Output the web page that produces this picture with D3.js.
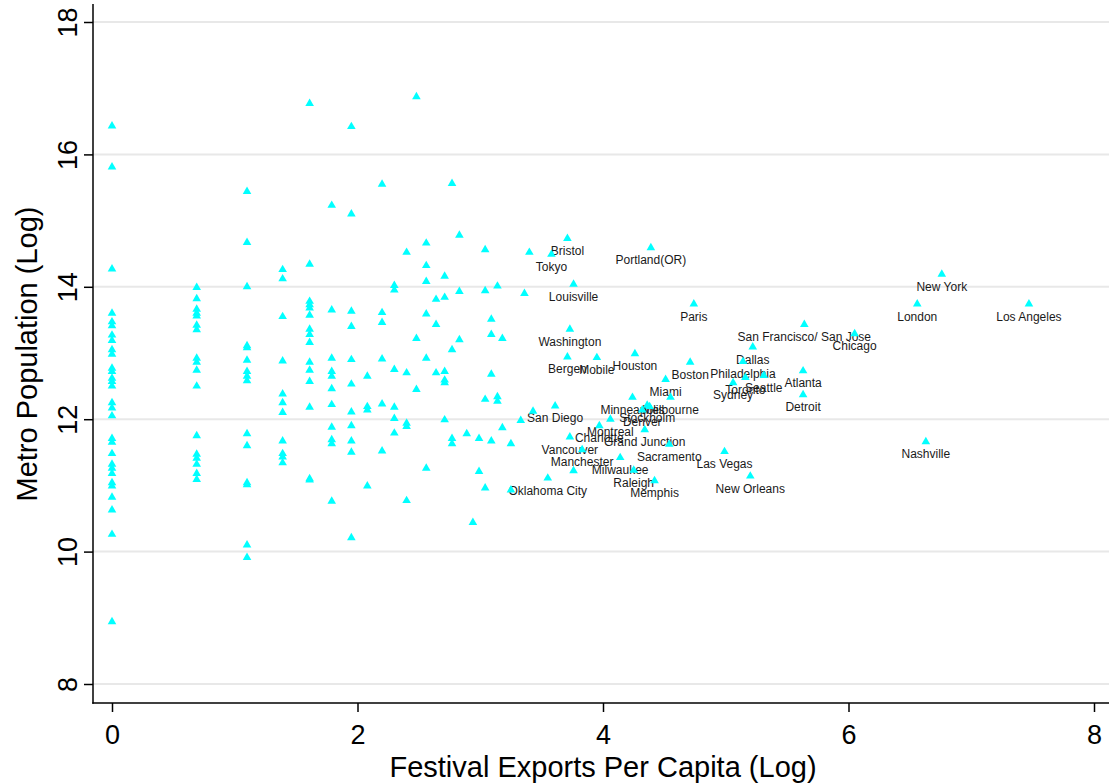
<!DOCTYPE html>
<html>
<head>
<meta charset="utf-8">
<script src="https://cdn.jsdelivr.net/npm/d3@7"></script>
<style>
  html, body { margin: 0; padding: 0; background: #fff; }
  svg { display: block; font-family: "Liberation Sans", Arial, sans-serif; }
</style>
</head>
<body>
<svg id="chart" width="1109" height="784"></svg>
<script>
// ---------------- data ----------------
const xTicks = [0, 2, 4, 6, 8];
const yTicks = [8, 10, 12, 14, 16, 18];
const xTitle = "Festival Exports Per Capita (Log)";
const yTitle = "Metro Population (Log)";

// unlabeled observations, grouped by their x value
const colX = [0, 0.69, 1.10, 1.39, 1.61, 1.79, 1.95, 2.08, 2.20, 2.30, 2.40, 2.48, 2.56, 2.64, 2.71,
              2.77, 2.83, 2.89, 2.94, 2.99, 3.04, 3.09, 3.14, 3.18, 3.25, 3.33, 3.36, 3.40, 3.43, 3.76, 4.38];
const colY = [
  [16.43, 15.81, 14.27, 13.60, 13.47, 13.41, 13.27, 13.19, 13.05, 12.98, 12.77, 12.72, 12.62, 12.57, 12.50,
   12.25, 12.17, 12.05, 11.71, 11.65, 11.48, 11.32, 11.26, 11.18, 11.04, 10.99, 10.82, 10.63, 10.26, 8.94],
  [13.99, 13.82, 13.66, 13.60, 13.56, 13.42, 13.35, 12.92, 12.86, 12.74, 12.50, 11.75, 11.47, 11.41, 11.32, 11.18, 11.09],
  [15.44, 14.67, 14.00, 13.11, 13.08, 12.89, 12.72, 12.65, 12.58, 11.78, 11.60, 11.04, 11.01, 10.10, 9.91],
  [14.26, 14.12, 13.55, 12.88, 12.38, 12.25, 12.10, 11.67, 11.48, 11.43, 11.34],
  [16.77, 14.34, 13.78, 13.73, 13.68, 13.57, 13.36, 13.28, 13.16, 12.86, 12.74, 12.57, 12.18, 11.10, 11.08],
  [15.23, 13.65, 12.92, 12.72, 12.65, 12.46, 12.22, 11.88, 11.69, 11.63, 10.76],
  [16.42, 15.10, 13.63, 13.40, 12.90, 12.53, 12.11, 11.90, 11.67, 11.50, 10.21],
  [12.65, 12.19, 12.14, 10.99],
  [15.55, 13.61, 13.46, 12.91, 12.23, 11.52],
  [14.02, 13.95, 12.75, 12.18, 12.01, 11.79],
  [14.52, 12.70, 11.94, 11.89, 10.77],
  [16.87, 13.22, 12.45],
  [14.66, 14.32, 14.08, 13.59, 12.92, 11.26],
  [13.81, 13.43, 12.70],
  [14.16, 13.84, 12.72, 12.59, 12.55, 11.99],
  [15.56, 13.05, 11.71, 11.63],
  [14.78, 13.93, 13.20],
  [11.78],
  [10.44],
  [11.71, 11.21],
  [14.56, 13.94, 12.30, 10.96],
  [13.51, 13.28, 12.68, 11.67],
  [14.01, 12.34, 12.27],
  [13.22, 11.87],
  [11.63, 10.93],
  [11.98],
  [13.90],
  [14.52],
  [12.12],
  [11.22],
  [12.19]
];

// labeled cities
const cityNames = ["Bristol", "Tokyo", "Portland(OR)", "Louisville", "Paris", "Washington", "Bergen", "Mobile",
  "Houston", "Boston", "Miami", "Minneapolis", "Melbourne", "San Diego", "Stockholm", "Denver", "Montreal",
  "Charlotte", "Grand Junction", "Vancouver", "Manchester", "Sacramento", "Milwaukee", "Raleigh", "Memphis",
  "Oklahoma City", "Las Vegas", "New Orleans", "San Francisco/ San Jose", "Chicago", "Dallas", "Philadelphia",
  "Seattle", "Toronto", "Sydney", "Atlanta", "Detroit", "New York", "London", "Los Angeles", "Nashville"];
const cityX = [3.71, 3.58, 4.39, 3.76, 4.74, 3.73, 3.71, 3.95,
  4.26, 4.71, 4.51, 4.24, 4.55, 3.61, 4.36, 4.32, 4.06,
  3.97, 4.34, 3.73, 3.83, 4.54, 4.14, 4.25, 4.42,
  3.55, 4.99, 5.20, 5.64, 6.05, 5.22, 5.14,
  5.31, 5.16, 5.06, 5.63, 5.63, 6.76, 6.56, 7.47, 6.63];
const cityY = [14.73, 14.49, 14.59, 14.04, 13.74, 13.36, 12.94, 12.93,
  12.99, 12.86, 12.60, 12.33, 12.33, 12.20, 12.21, 12.14, 12.00,
  11.90, 11.84, 11.73, 11.54, 11.62, 11.42, 11.23, 11.07,
  11.11, 11.51, 11.14, 13.43, 13.29, 13.09, 12.87,
  12.66, 12.63, 12.55, 12.73, 12.37, 14.19, 13.74, 13.74, 11.66];

// ---------------- chart ----------------
const svg = d3.select("#chart");
const W = 1109, H = 784;
const plotLeft = 93, plotRight = 1109, plotTop = 4, plotBottom = 703;

const x = d3.scaleLinear().domain([0, 8]).range([112, 1094]);
const y = d3.scaleLinear().domain([8, 18]).range([684, 22]);

svg.append("rect").attr("width", W).attr("height", H).attr("fill", "#fff");

// gridlines
svg.append("g").selectAll("line").data(yTicks).join("line")
  .attr("x1", plotLeft).attr("x2", plotRight)
  .attr("y1", d => y(d)).attr("y2", d => y(d))
  .attr("stroke", "#e8e8e8").attr("stroke-width", 2);

// y axis
const yAxis = svg.append("g").attr("transform", `translate(${plotLeft},0)`)
  .call(d3.axisLeft(y).tickValues(yTicks).tickSize(9).tickPadding(10).tickFormat(d3.format("d")));
yAxis.select(".domain").remove();
yAxis.selectAll(".tick line").attr("stroke", "#000").attr("stroke-width", 1.5);
yAxis.selectAll(".tick text")
  .attr("font-size", 27).attr("fill", "#000")
  .attr("text-anchor", "middle")
  .attr("transform", "rotate(-90)")
  .attr("x", 0).attr("y", -16).attr("dy", 0);

svg.append("line").attr("x1", plotLeft).attr("x2", plotLeft).attr("y1", plotTop).attr("y2", plotBottom + 0.75)
  .attr("stroke", "#000").attr("stroke-width", 1.5);

// x axis
const xAxis = svg.append("g").attr("transform", `translate(0,${plotBottom})`)
  .call(d3.axisBottom(x).tickValues(xTicks).tickSize(9).tickPadding(13).tickFormat(d3.format("d")));
xAxis.select(".domain").remove();
xAxis.selectAll(".tick line").attr("stroke", "#000").attr("stroke-width", 1.5);
xAxis.selectAll(".tick text").attr("font-size", 27).attr("fill", "#000").attr("dy", "0.71em");

svg.append("line").attr("x1", plotLeft - 0.75).attr("x2", plotRight).attr("y1", plotBottom).attr("y2", plotBottom)
  .attr("stroke", "#000").attr("stroke-width", 1.5);

// titles
svg.append("text").attr("x", 603).attr("y", 777).attr("text-anchor", "middle")
  .attr("font-size", 29).attr("fill", "#000").text(xTitle);
svg.append("text").attr("transform", `translate(37,354) rotate(-90)`).attr("text-anchor", "middle")
  .attr("font-size", 29).attr("fill", "#000").text(yTitle);

// points
const pts = [];
colX.forEach((cx, i) => colY[i].forEach(v => pts.push({x: cx, y: v})));
const cities = cityNames.map((n, i) => ({name: n, x: cityX[i], y: cityY[i]}));

// labels
svg.append("g").selectAll("text").data(cities).join("text")
  .attr("x", d => x(d.x)).attr("y", d => y(d.y) + 16.5)
  .attr("text-anchor", "middle").attr("font-size", 12).attr("fill", "#1a1a1a")
  .text(d => d.name);

const tri = d3.symbol().type(d3.symbolTriangle).size(32);
const allPts = pts.concat(cities);
svg.append("g").selectAll("path").data(allPts).join("path")
  .attr("d", tri)
  .attr("transform", d => `translate(${x(d.x)},${y(d.y)})`)
  .attr("fill", "#00ffff");
</script>
</body>
</html>
